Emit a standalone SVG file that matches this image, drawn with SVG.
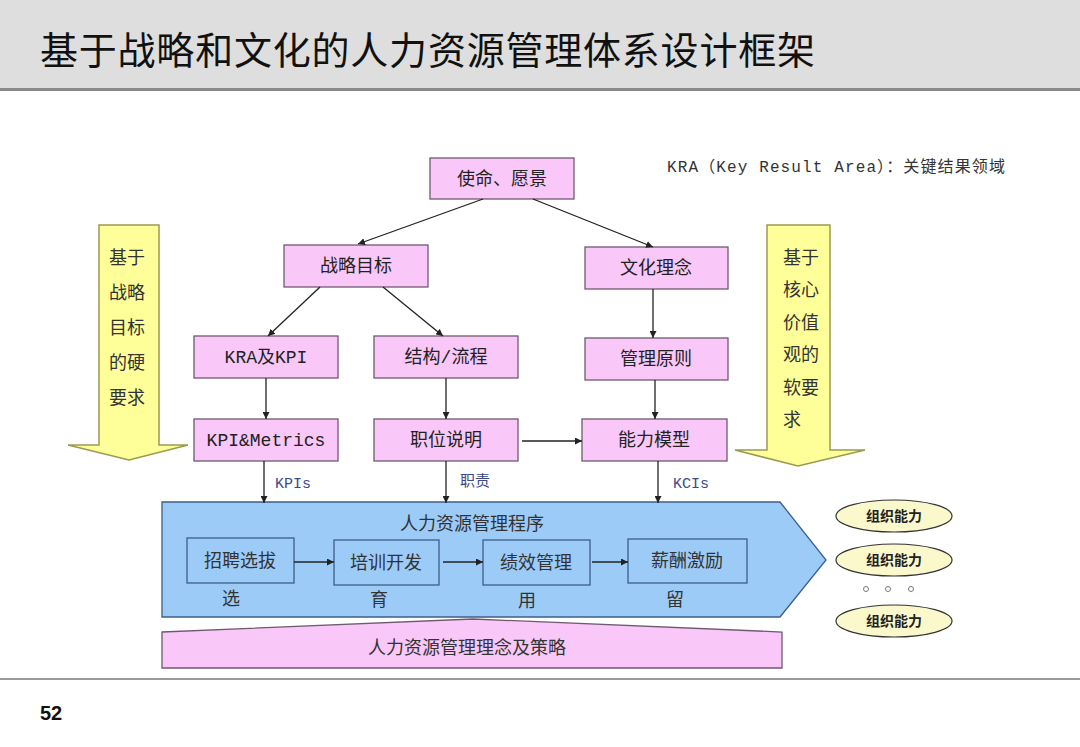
<svg xmlns="http://www.w3.org/2000/svg" width="1080" height="747" viewBox="0 0 1080 747">
<defs>
<marker id="ah" viewBox="0 0 10 10" refX="10" refY="5" markerWidth="7" markerHeight="7" markerUnits="userSpaceOnUse" orient="auto"><path d="M0,0 L10,5 L0,10 z" fill="#222"/></marker>
<style>
.nb{fill:#f9c8f8;stroke:#6f5a6f;stroke-width:1.3}
.ib{fill:#9ccbf8;stroke:#3d5f86;stroke-width:1.3}
.t{font-family:"Liberation Mono","Noto Sans CJK SC",monospace;font-size:18px;fill:#222;text-anchor:middle}
.v{font-family:"Noto Sans CJK SC",sans-serif;font-size:18px;fill:#333;text-anchor:middle}
.lb{font-family:"Liberation Mono","Noto Sans CJK SC",monospace;font-size:15px;fill:#3a4a86}
.c line,.c path{stroke:#222;stroke-width:1.3;fill:none;marker-end:url(#ah)}
.ya{fill:#ffff99;stroke:#9a9a50;stroke-width:1.5}
.el{fill:#fbf9cc;stroke:#333;stroke-width:1.2}
.et{font-family:"Noto Sans CJK SC",sans-serif;font-size:14px;font-weight:bold;fill:#222;text-anchor:middle}
</style>
</defs>
<rect x="0" y="0" width="1080" height="88" fill="#dedede"/>
<rect x="0" y="88" width="1080" height="3" fill="#8a8a8a"/>
<text x="40" y="64" font-family="Noto Sans CJK SC,sans-serif" font-size="38" fill="#111" textLength="775" lengthAdjust="spacing">基于战略和文化的人力资源管理体系设计框架</text>
<rect x="0" y="678" width="1080" height="2" fill="#9a9a9a"/>
<text x="40" y="720" font-family="Liberation Sans,Arial,sans-serif" font-size="20" font-weight="bold" fill="#111">52</text>
<text x="667" y="172" font-family="Liberation Mono,Noto Sans CJK SC,monospace" font-size="16" fill="#333" textLength="338" lengthAdjust="spacing">KRA（Key Result Area）：关键结果领域</text>

<g id="left-arrow"><path class="ya" d="M99,225 H159 V445 H188 L129,460 L68,445 H99 Z"/>
<text class="v" x="127" y="264">基于</text><text class="v" x="127" y="299">战略</text><text class="v" x="127" y="334">目标</text><text class="v" x="127" y="369">的硬</text><text class="v" x="127" y="404">要求</text></g>
<g id="right-arrow"><path class="ya" d="M767,225 H830 V450 H865 L798,466 L735,450 H767 Z"/>
<text class="v" x="801" y="264">基于</text><text class="v" x="801" y="296">核心</text><text class="v" x="801" y="329">价值</text><text class="v" x="801" y="361">观的</text><text class="v" x="801" y="394">软要</text><text x="783" y="426" font-family="Noto Sans CJK SC,sans-serif" font-size="18" fill="#333">求</text></g>

<g id="mission"><rect class="nb" x="430" y="158" width="144" height="41"/><text class="t" x="502" y="185">使命、愿景</text></g>
<g id="strategy"><rect class="nb" x="284" y="245" width="144" height="42"/><text class="t" x="356" y="272">战略目标</text></g>
<g id="culture"><rect class="nb" x="585" y="247" width="143" height="42"/><text class="t" x="656" y="274">文化理念</text></g>
<g id="kra"><rect class="nb" x="194" y="336" width="144" height="42"/><text class="t" x="266" y="363">KRA及KPI</text></g>
<g id="structure"><rect class="nb" x="374" y="336" width="144" height="42"/><text class="t" x="446" y="363">结构/流程</text></g>
<g id="principle"><rect class="nb" x="585" y="338" width="143" height="42"/><text class="t" x="656" y="365">管理原则</text></g>
<g id="metrics"><rect class="nb" x="194" y="419" width="144" height="42"/><text class="t" x="266" y="446">KPI&amp;Metrics</text></g>
<g id="position"><rect class="nb" x="374" y="419" width="144" height="42"/><text class="t" x="446" y="446">职位说明</text></g>
<g id="competency"><rect class="nb" x="582" y="419" width="145" height="42"/><text class="t" x="654" y="446">能力模型</text></g>

<g id="hr-program"><path class="ib" d="M162,502 H780 L826,560 L780,617 H162 Z" stroke-width="1.5"/>
<text class="v" x="472" y="530" fill="#222">人力资源管理程序</text>
<rect class="ib" x="187" y="538" width="107" height="45"/><text class="v" x="240" y="567">招聘选拔</text>
<rect class="ib" x="334" y="540" width="105" height="45"/><text class="v" x="386" y="569">培训开发</text>
<rect class="ib" x="483" y="540" width="107" height="45"/><text class="v" x="536" y="569">绩效管理</text>
<rect class="ib" x="628" y="539" width="119" height="44"/><text class="v" x="687" y="567">薪酬激励</text>
<text class="v" x="231" y="605">选</text><text class="v" x="379" y="606">育</text><text class="v" x="527" y="607">用</text><text class="v" x="675" y="606">留</text></g>

<g id="hr-philosophy"><path d="M162,632 L473,619 L782,632 V668 H162 Z" fill="#f9c8f8" stroke="#6f5a6f" stroke-width="1.3"/>
<text class="v" x="467" y="654">人力资源管理理念及策略</text></g>

<g id="org1"><ellipse class="el" cx="894" cy="516" rx="58" ry="16"/><text class="et" x="894" y="521">组织能力</text></g>
<g id="org2"><ellipse class="el" cx="894" cy="560" rx="58" ry="16"/><text class="et" x="894" y="565">组织能力</text></g>
<g id="dots" fill="none" stroke="#777" stroke-width="1"><circle cx="866" cy="589" r="2.5"/><circle cx="888" cy="589" r="2.5"/><circle cx="911" cy="589" r="2.5"/></g>
<g id="org3"><ellipse class="el" cx="894" cy="621" rx="58" ry="16"/><text class="et" x="894" y="626">组织能力</text></g>

<g id="connectors" class="c">
<line x1="483" y1="199" x2="358" y2="244"/>
<line x1="533" y1="199" x2="653" y2="247"/>
<line x1="320" y1="287" x2="268" y2="336"/>
<line x1="383" y1="287" x2="443" y2="336"/>
<line x1="266" y1="378" x2="266" y2="419"/>
<line x1="446" y1="378" x2="446" y2="419"/>
<line x1="653" y1="289" x2="653" y2="338"/>
<line x1="655" y1="380" x2="655" y2="419"/>
<line x1="522" y1="441" x2="582" y2="441"/>
<line x1="264" y1="461" x2="264" y2="503"/>
<line x1="446" y1="461" x2="446" y2="503"/>
<line x1="658" y1="461" x2="658" y2="503"/>
<line x1="294" y1="562" x2="334" y2="562"/>
<line x1="443" y1="562" x2="483" y2="562"/>
<line x1="592" y1="562" x2="628" y2="562"/>
</g>
<text class="lb" x="275" y="488">KPIs</text>
<text class="lb" x="460" y="486" font-size="14">职责</text>
<text class="lb" x="673" y="488">KCIs</text>
</svg>
